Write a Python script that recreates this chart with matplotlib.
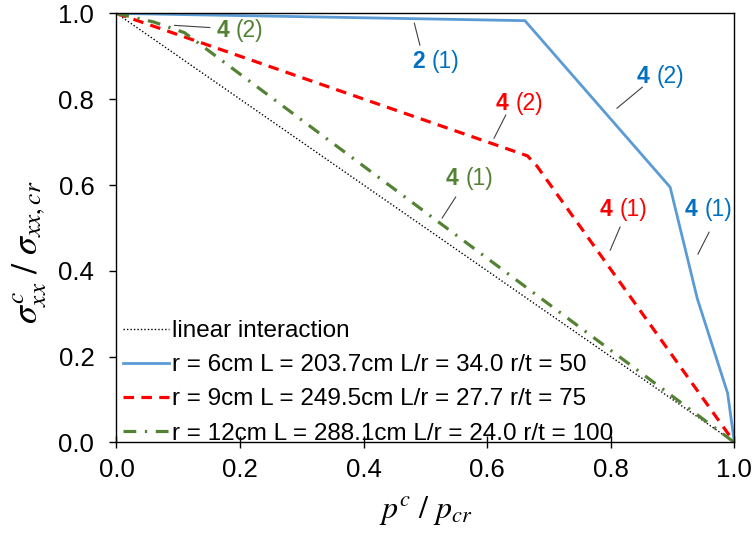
import matplotlib
matplotlib.use("Agg")
import matplotlib.pyplot as plt

# ---- data ----
lin_x = [0.0, 1.0]
lin_y = [1.0, 0.0]

blue_x = [0.0, 0.661, 0.896, 0.94, 0.989, 1.0]
blue_y = [1.0, 0.983, 0.595, 0.335, 0.115, 0.0]

red_x = [0.0, 0.665, 0.68, 1.0]
red_y = [1.0, 0.668, 0.645, 0.0]

green_x = [0.0, 0.06, 0.11, 1.0]
green_y = [1.0, 0.98, 0.955, 0.0]

labels = ["linear interaction",
          "r = 6cm L = 203.7cm L/r = 34.0 r/t = 50",
          "r = 9cm L = 249.5cm L/r = 27.7 r/t = 75",
          "r = 12cm L = 288.1cm L/r = 24.0 r/t = 100"]

xticks = [0.0, 0.2, 0.4, 0.6, 0.8, 1.0]
yticks = [0.0, 0.2, 0.4, 0.6, 0.8, 1.0]

# annotations: (bold, normal, text_left_x, text_center_y, leader start, leader end, color)
annots = [
    ("4", "(2)", 0.162, 0.961, (0.094, 0.972), (0.151, 0.967), "green"),
    ("2", "(1)", 0.478, 0.889, (0.482, 0.977), (0.491, 0.926), "blue"),
    ("4", "(2)", 0.842, 0.854, (0.810, 0.779), (0.851, 0.828), "blue"),
    ("4", "(2)", 0.614, 0.791, (0.611, 0.709), (0.630, 0.763), "red"),
    ("4", "(1)", 0.533, 0.614, (0.527, 0.523), (0.549, 0.572), "green"),
    ("4", "(1)", 0.782, 0.542, (0.799, 0.448), (0.815, 0.502), "red"),
    ("4", "(1)", 0.920, 0.542, (0.941, 0.439), (0.959, 0.490), "blue"),
]

line_colors = {"blue": "#5B9BD5", "red": "#FF0000", "green": "#548235"}
text_colors = {"blue": "#0070C0", "red": "#FF0000", "green": "#548235"}

plt.rcParams['mathtext.fontset'] = 'stix'
plt.rcParams['font.family'] = ["Liberation Sans", "DejaVu Sans"]

fig = plt.figure(figsize=(7.54, 5.35), dpi=100)
ax = fig.add_axes([0.1545, 0.173, 0.8195, 0.802])

h0, = ax.plot(lin_x, lin_y, color="black", lw=1.0, ls=(0, (1, 1.5)))
h1, = ax.plot(blue_x, blue_y, color=line_colors["blue"], lw=2.0, solid_joinstyle="miter")
h2, = ax.plot(red_x, red_y, color=line_colors["red"], lw=2.3, ls=(0, (3.3, 2.3)))
h3, = ax.plot(green_x, green_y, color=line_colors["green"], lw=2.3,
              ls=(0, (4, 2.7, 0.7, 2.7)))

ax.set_xlim(0, 1)
ax.set_ylim(0, 1)
ax.set_xticks(xticks)
ax.set_yticks(yticks)
ax.set_xticklabels([f"{v:.1f}" for v in xticks])
ax.set_yticklabels([f"{v:.1f}" for v in yticks])
ax.tick_params(axis='x', direction='inout', length=9, width=1, labelsize=18.5, pad=7)
ax.tick_params(axis='y', direction='out', length=5, width=1, labelsize=18.5, pad=11)
for s in ax.spines.values():
    s.set_linewidth(1.0)

ax.set_xlabel(r"$p^{c}\ /\ p_{cr}$", fontsize=23, labelpad=8)
ax.set_ylabel(r"$\sigma^{c}_{xx}\ /\ \sigma_{xx,cr}$", fontsize=26)
ax.yaxis.set_label_coords(-0.11, 0.444)

leg = ax.legend([h0, h1, h2, h3], labels, loc="lower left", frameon=False,
                prop={"family": ["Liberation Sans", "DejaVu Sans"], "size": 17.5},
                handlelength=1.9, handletextpad=0.15, labelspacing=0.5,
                borderaxespad=0.0, borderpad=0.0, bbox_to_anchor=(0.01, -0.005))

for bold, norm, tx, ty, p0, p1, c in annots:
    ax.plot([p0[0], p1[0]], [p0[1], p1[1]], color="#404040", lw=0.8)
    ax.text(tx, ty, bold, color=text_colors[c], fontsize=16.5, fontweight="bold",
            ha="left", va="center")
    ax.annotate(norm, xy=(tx, ty), xytext=(14, 0), textcoords="offset points",
                color=text_colors[c], fontsize=16.5, ha="left", va="center")

fig.savefig("out.png", dpi=100)
